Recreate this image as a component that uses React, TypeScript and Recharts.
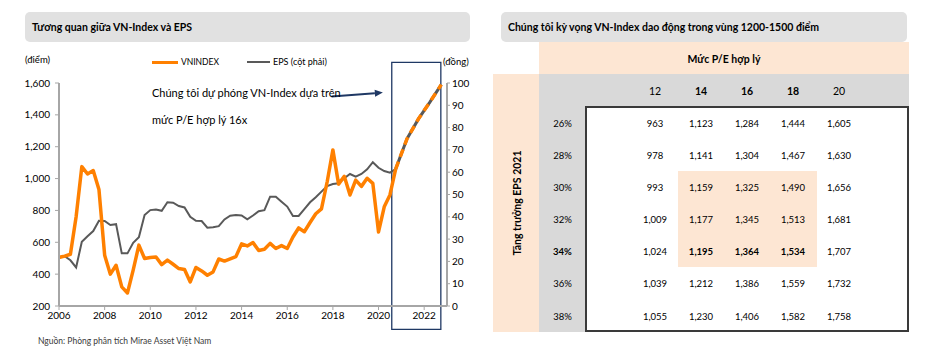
import React from 'react';
import { LineChart, Line, XAxis, YAxis, ReferenceArea, ReferenceLine } from 'recharts';

// ---------- data ----------
const firstYear = 2006;
const vnIndex = [505, 513, 525, 760, 1075, 1029, 1050, 932, 519, 400, 456, 320, 282, 425, 582, 498, 505, 508, 460, 488, 462, 435, 429, 351, 442, 420, 393, 414, 495, 482, 496, 510, 590, 577, 598, 549, 556, 593, 561, 579, 561, 633, 690, 666, 724, 779, 810, 980, 1180, 965, 1014, 897, 990, 951, 1002, 970, 665, 823, 897, 1060];
const eps = [21.8, 22.3, 20.5, 17.3, 28.8, 31.3, 33.6, 38.2, 38.1, 36.3, 36.7, 23.6, 23.6, 28.3, 30.8, 40.8, 43, 43.3, 42.7, 46.5, 46.3, 44.8, 44.2, 40, 38.2, 38.1, 35.1, 35.3, 35.8, 38.8, 40.5, 40.8, 40.6, 38.9, 40.6, 42.5, 43, 49, 49, 46.8, 44.6, 40.4, 40.4, 43.4, 46.5, 48.8, 51.3, 53.8, 54.7, 55, 57.3, 59.2, 58, 59.2, 61.3, 64.5, 62, 60.5, 59.8, 61.4];
const forecastYears = [2020.75, 2021.25, 2021.75, 2022.25, 2022.75];
const vnForecast = [1060, 1250, 1375, 1480, 1590];
const epsForecast = [61.4, 75, 83.9, 91.4, 99.3];
const xTicks = [2006, 2008, 2010, 2012, 2014, 2016, 2018, 2020, 2022];
const leftTicks = [200, 400, 600, 800, 1000, 1200, 1400, 1600];
const rightTicks = [0, 10, 20, 30, 40, 50, 60, 70, 80, 90, 100];
const forecastBox = { x1: 2020.58, x2: 2022.73, y1: 53, y2: 1730 };
const arrowFrom = { x: 2017.94, y: 1515 };
const arrowTo = { x: 2020.19, y: 1540 };

const peLevels = [12, 14, 16, 18, 20];
const boldPe = [14, 16, 18];
const growthRates = ['26%', '28%', '30%', '32%', '34%', '36%', '38%'];
const row26 = [963, 1123, 1284, 1444, 1605];
const row28 = [978, 1141, 1304, 1467, 1630];
const row30 = [993, 1159, 1325, 1490, 1656];
const row32 = [1009, 1177, 1345, 1513, 1681];
const row34 = [1024, 1195, 1364, 1534, 1707];
const row36 = [1039, 1212, 1386, 1559, 1732];
const row38 = [1055, 1230, 1406, 1582, 1758];
const valuationRows = [row26, row28, row30, row32, row34, row36, row38];
const boldRowIndex = 4;

// ---------- build chart data ----------
const chartData: any[] = vnIndex.map((v, i) => ({
  t: firstYear + i * 0.25,
  vn: v,
  eps: eps[i],
}));
forecastYears.forEach((t, k) => {
  const existing = chartData.find((d) => Math.abs(d.t - t) < 1e-6);
  if (existing) {
    existing.vnF = vnForecast[k];
    existing.epsF = epsForecast[k];
  } else {
    chartData.push({ t, vnF: vnForecast[k], epsF: epsForecast[k] });
  }
});

const ORANGE = '#FF8000';
const GRAY = '#595959';
const NAVY = '#1F3864';
const PEACH = '#FDE6D3';
const FONT = 'Lato, "Liberation Sans", sans-serif';

const fmt = (n: number) => n.toLocaleString('en-US');

const ArrowShape = (props: any) => {
  const { x1, y1, x2, y2 } = props;
  const a = Math.atan2(y2 - y1, x2 - x1);
  const len = 8;
  const half = 3.5;
  const bx = x2 - len * Math.cos(a);
  const by = y2 - len * Math.sin(a);
  const px = -Math.sin(a) * half;
  const py = Math.cos(a) * half;
  return (
    <g>
      <line x1={x1} y1={y1} x2={bx} y2={by} stroke={NAVY} strokeWidth={2} />
      <polygon points={`${x2},${y2} ${bx + px},${by + py} ${bx - px},${by - py}`} fill={NAVY} />
    </g>
  );
};

const Txt = ({ left, cy, size, bold, children, color, align }: any) => (
  <div
    style={{
      position: 'absolute',
      left,
      top: cy,
      transform: align === 'center' ? 'translate(-50%, -50%)' : 'translateY(-50%)',
      fontSize: size,
      fontWeight: bold ? 700 : 400,
      color: color || '#000',
      whiteSpace: 'nowrap',
      lineHeight: 1.2,
    }}
  >
    {children}
  </div>
);

const colCenters = [655, 701, 747, 793, 839];
const rowCenters = [124, 156, 188, 220, 252, 284, 316.5];

export default function App() {
  return (
    <div
      style={{
        position: 'fixed',
        left: 0,
        top: 0,
        width: 926,
        height: 348,
        background: '#fff',
        fontFamily: FONT,
        overflow: 'hidden',
      }}
    >
      {/* left title */}
      <div style={{ position: 'absolute', left: 25, top: 12, width: 445, height: 30, background: '#E1E1E1', borderRadius: 5 }} />
      <Txt left={32} cy={27} size={10.5} bold>Tương quan giữa VN-Index và EPS</Txt>

      <div style={{ position: 'absolute', left: 0, top: 0 }}>
        <LineChart width={480} height={348} data={chartData} margin={{ top: 83, right: 0, bottom: 12, left: 0 }}>
          <XAxis
            dataKey="t"
            type="number"
            domain={[2006, 2023]}
            ticks={xTicks}
            allowDataOverflow
            tickSize={4}
            tickMargin={2}
            height={30}
            axisLine={{ stroke: '#A6A6A6', strokeWidth: 2 }}
            tickLine={{ stroke: '#A6A6A6' }}
            tick={{ fill: '#000', fontSize: 10, fontFamily: FONT }}
          />
          <YAxis
            yAxisId="left"
            domain={[200, 1600]}
            ticks={leftTicks}
            width={59}
            tickSize={4}
            tickMargin={5}
            tickFormatter={fmt}
            axisLine={{ stroke: '#A6A6A6', strokeWidth: 2 }}
            tickLine={{ stroke: '#A6A6A6' }}
            tick={{ fill: '#000', fontSize: 10, fontFamily: FONT }}
          />
          <YAxis
            yAxisId="right"
            orientation="right"
            domain={[0, 100]}
            ticks={rightTicks}
            width={33}
            tickSize={3}
            tickMargin={2}
            axisLine={{ stroke: '#A6A6A6', strokeWidth: 2 }}
            tickLine={{ stroke: '#A6A6A6' }}
            tick={{ fill: '#000', fontSize: 10, fontFamily: FONT }}
          />
          <Line yAxisId="right" dataKey="eps" stroke={GRAY} strokeWidth={2} dot={false} isAnimationActive={false} />
          <Line yAxisId="left" dataKey="vn" stroke={ORANGE} strokeWidth={3.5} dot={false} isAnimationActive={false} strokeLinejoin="round" />
          <Line yAxisId="right" dataKey="epsF" stroke={GRAY} strokeWidth={3} dot={false} isAnimationActive={false} />
          <Line yAxisId="left" dataKey="vnF" stroke={ORANGE} strokeWidth={3.5} strokeDasharray="8 5" dot={false} isAnimationActive={false} />
          <ReferenceArea
            yAxisId="left"
            x1={forecastBox.x1}
            x2={forecastBox.x2}
            y1={forecastBox.y1}
            y2={forecastBox.y2}
            ifOverflow="visible"
            fill="none"
            fillOpacity={0}
            stroke={NAVY}
            strokeWidth={1.3}
          />
          <ReferenceLine yAxisId="left" segment={[arrowFrom, arrowTo]} shape={ArrowShape} ifOverflow="visible" />
        </LineChart>
      </div>

      {/* left chart texts */}
      <Txt left={25} cy={60} size={9.5}>(điểm)</Txt>
      <Txt left={443} cy={62} size={9.5}>(đồng)</Txt>
      <div style={{ position: 'absolute', left: 152, top: 60.5, width: 26, height: 3, background: ORANGE }} />
      <Txt left={181} cy={62} size={8.5}>VNINDEX</Txt>
      <div style={{ position: 'absolute', left: 247, top: 61, width: 23, height: 2, background: GRAY }} />
      <Txt left={273} cy={62} size={9}>EPS (cột phải)</Txt>
      <Txt left={152} cy={92.5} size={11}>Chúng tôi dự phóng VN-Index dựa trên</Txt>
      <Txt left={152} cy={120} size={11}>mức P/E hợp lý 16x</Txt>
      <Txt left={38} cy={340.5} size={8.5} color="#3A3A3A">Nguồn: Phòng phân tích Mirae Asset Việt Nam</Txt>

      {/* right title */}
      <div style={{ position: 'absolute', left: 501, top: 12, width: 406, height: 30, background: '#E1E1E1', borderRadius: 5 }} />
      <Txt left={508} cy={27} size={10.5} bold>Chúng tôi kỳ vọng VN-Index dao động trong vùng 1200-1500 điểm</Txt>

      {/* table backgrounds */}
      <div style={{ position: 'absolute', left: 539, top: 42, width: 370, height: 32, background: PEACH }} />
      <div style={{ position: 'absolute', left: 493, top: 74, width: 46, height: 258, background: PEACH }} />
      <div style={{ position: 'absolute', left: 539, top: 74, width: 370, height: 33, background: '#D9D9D9' }} />
      <div style={{ position: 'absolute', left: 539, top: 107, width: 46, height: 225, background: '#D9D9D9' }} />
      <div
        style={{
          position: 'absolute',
          left: 585,
          top: 106,
          width: 324,
          height: 226,
          background: '#fff',
          border: '2px solid #3A3A3A',
          boxSizing: 'border-box',
        }}
      />
      <div style={{ position: 'absolute', left: 678, top: 171, width: 139, height: 96, background: PEACH }} />

      <Txt left={724} cy={59} size={10.5} bold align="center">Mức P/E hợp lý</Txt>
      <div
        style={{
          position: 'absolute',
          left: 516.5,
          top: 203,
          transform: 'translate(-50%, -50%) rotate(-90deg)',
          fontSize: 10.5,
          fontWeight: 700,
          whiteSpace: 'nowrap',
          lineHeight: 1.2,
        }}
      >
        Tăng trưởng EPS 2021
      </div>

      {peLevels.map((pe, c) => (
        <Txt key={'pe' + pe} left={colCenters[c]} cy={90.5} size={10.5} bold={boldPe.includes(pe)} align="center">
          {pe}
        </Txt>
      ))}
      {growthRates.map((g, r) => (
        <Txt key={'g' + g} left={562.5} cy={rowCenters[r]} size={9.5} bold={r === boldRowIndex} align="center">
          {g}
        </Txt>
      ))}
      {valuationRows.map((row, r) =>
        row.map((v, c) => (
          <Txt
            key={`v${r}-${c}`}
            left={colCenters[c]}
            cy={rowCenters[r]}
            size={9.5}
            bold={r === boldRowIndex && boldPe.includes(peLevels[c])}
            align="center"
          >
            {fmt(v)}
          </Txt>
        ))
      )}
    </div>
  );
}
